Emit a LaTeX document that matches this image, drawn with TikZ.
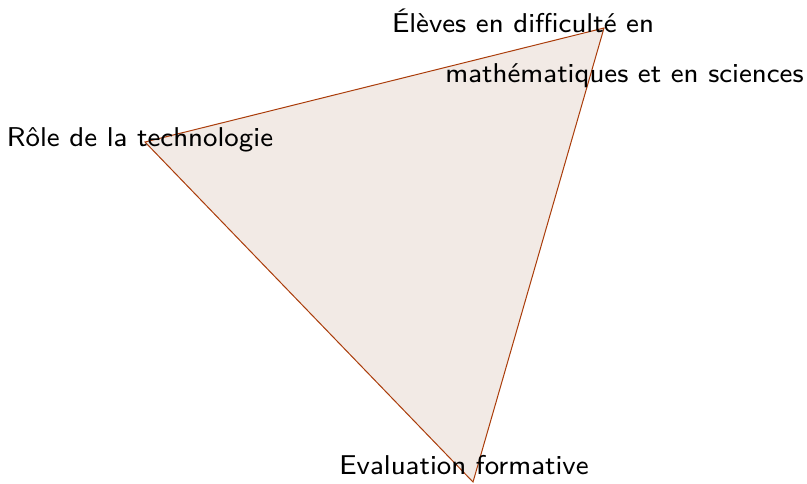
\documentclass[tikz,border=0pt]{standalone}
\usepackage{tikz}
\usetikzlibrary{positioning}
\definecolor{edgebrown}{RGB}{170,60,10}
\definecolor{areafill}{RGB}{242,234,229}
\tikzstyle{corner} = [coordinate]
\tikzstyle{label} = [inner sep=0pt, scale=1.36, font=\sffamily\fontsize{8}{9.6}\selectfont, text=black]
\tikzstyle{area} = [draw=edgebrown, fill=areafill, line width=0.4pt]

\begin{document}
\begin{tikzpicture}[x=0.4pt, y=-0.4pt]
\useasboundingbox (0,0) rectangle (807,483);
\coordinate (role) at (145,142);
\coordinate (eleves) at (604,28);
\coordinate (evaluation) at (473,482);
\draw [area] (role) -- (eleves) -- (evaluation) -- cycle;
\node (roletext) [label, anchor=base] at (140,146)
   {Rôle de la technologie};
\node (elevestext) [label, anchor=base] at (523,32)
   {Élèves en difficulté en};
\node (elevestext2) [label, anchor=base] at (624.5,82)
   {mathématiques et en sciences};
\node (evaltext) [label, anchor=base] at (464,474)
   {Evaluation formative};
\end{tikzpicture}
\end{document}
